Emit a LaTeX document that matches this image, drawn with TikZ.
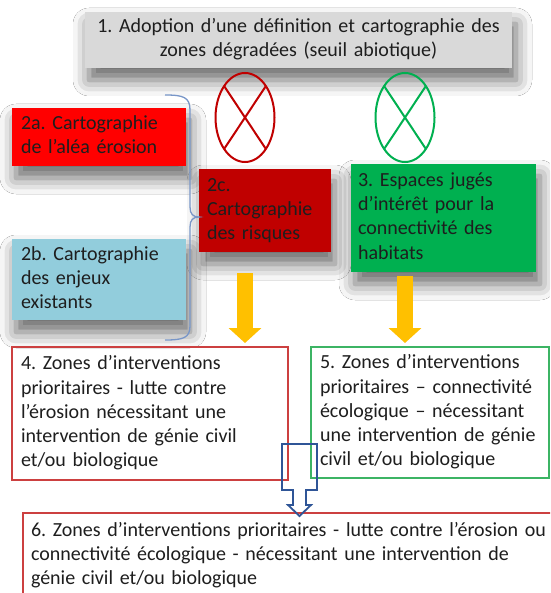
\documentclass[tikz,border=0pt]{standalone}
\usepackage{fontspec}
\setmainfont{Carlito}
\frenchspacing
\usetikzlibrary{arrows.meta, positioning, shapes.geometric, shadows.blur}

\definecolor{boxgrey}{RGB}{217,217,217}
\definecolor{aleared}{RGB}{255,0,0}
\definecolor{risquered}{RGB}{192,0,0}
\definecolor{enjeuxblue}{RGB}{146,205,220}
\definecolor{habgreen}{RGB}{0,176,80}
\definecolor{zonered}{RGB}{204,64,64}
\definecolor{zonegreen}{RGB}{60,180,100}
\definecolor{flowyellow}{RGB}{255,192,0}
\definecolor{flowblue}{RGB}{47,85,151}
\definecolor{bracecol}{RGB}{120,150,200}
\definecolor{txt}{RGB}{30,30,30}

\tikzset{
  box/.style={anchor=north west, inner ysep=0pt, outer sep=0pt, align=left, text=txt,
    font=\fontsize{20}{24.2}\selectfont,
    execute at begin node=\strut, execute at end node=\strut},
  filled/.style={box, blur shadow={shadow xshift=4pt, shadow yshift=-12pt,
    shadow blur radius=16pt, shadow opacity=60}},
  zone/.style={box, draw, line width=1.3pt},
  nogo/.style={ellipse, draw, line width=2pt, minimum width=59pt, minimum height=89pt,
    inner sep=0pt, outer sep=0pt},
  yarrow/.style={line width=16pt, flowyellow, -{Triangle[width=32pt,length=15pt]}},
}

\begin{document}
\begin{tikzpicture}[x=1pt, y=-1pt]

\useasboundingbox (0,0) rectangle (550,593);
\fill[white] (0,0) rectangle (550,593);
\clip (0,0) rectangle (550,593);

\node (adopt) [filled, fill=boxgrey, align=center, text width=409pt, inner xsep=9pt, minimum height=56pt] at (85,12)
  {1. Adoption d’une définition et cartographie des\\zones dégradées (seuil abiotique)};
\node (alea) [filled, fill=aleared, text width=156pt, inner xsep=9pt, minimum height=58pt] at (12,108)
  {2a. Cartographie\\de l’aléa érosion};
\node (enjeux) [filled, fill=enjeuxblue, text width=156pt, inner xsep=9pt, minimum height=81pt] at (12,239)
  {2b. Cartographie\\des enjeux\\existants};
\node (risques) [filled, fill=risquered, text width=116pt, inner xsep=8pt, minimum height=83pt] at (199,169)
  {2c.\\Cartographie\\des risques};
\node (habitats) [filled, fill=habgreen, text width=171pt, inner xsep=7pt, minimum height=108pt] at (351,164)
  {3. Espaces jugés\\d’intérêt pour la\\connectivité des\\habitats};

\node (nored) [nogo, draw=risquered] at (245,117.5) {};
\node (nogreen) [nogo, draw=habgreen] at (405,117.5) {};
\draw [risquered, line width=2pt] (nored.north west) -- (nored.south east) (nored.north east) -- (nored.south west);
\draw [habgreen, line width=2pt] (nogreen.north west) -- (nogreen.south east) (nogreen.north east) -- (nogreen.south west);

%brace 2a + 2b
\draw [bracecol, line width=1.3pt] (165,95) .. controls (183,95) and (190,97) .. (190,110) -- (190,207)
  .. controls (190,214) and (193,217) .. (199,217) .. controls (193,217) and (190,220) .. (190,227)
  -- (190,326) .. controls (190,338) and (183,340) .. (165,340);

\node (zerosion) [zone, draw=zonered, text width=258pt, inner xsep=9pt, minimum height=133pt] at (12,347)
  {4. Zones d’interventions\\prioritaires - lutte contre\\l’érosion nécessitant une\\intervention de génie civil\\et/ou biologique};
\node (zconnect) [zone, draw=zonegreen, text width=220pt, inner xsep=9pt, minimum height=131pt] at (311,347)
  {5. Zones d’interventions\\prioritaires – connectivité\\écologique – nécessitant\\une intervention de génie\\civil et/ou biologique};
\node (zfinal) [zone, draw=zonered, text width=530pt, inner xsep=8pt, minimum height=85pt] at (23,513)
  {6. Zones d’interventions prioritaires - lutte contre l’érosion ou\\connectivité écologique - nécessitant une intervention de\\génie civil et/ou biologique};

%arrows
\coordinate (ya) at (245,273);
\coordinate (yb) at (405,276);
\draw [yarrow, shorten >=4pt] (ya) -- (ya |- zerosion.north);
\draw [yarrow, shorten >=4pt] (yb) -- (yb |- zconnect.north);

\coordinate (ba) at (299.5,444);
\draw [flowblue, line width=1.8pt] (ba) ++(-17.5,0) -- ++(35,0) -- ++(0,46) -- ++(-11,0) -- ++(0,15) -- ++(5,0)
  -- ++(-11.5,11) -- ++(-11.5,-11) -- ++(5,0) -- ++(0,-15) -- ++(-11,0) -- cycle;

\end{tikzpicture}
\end{document}
